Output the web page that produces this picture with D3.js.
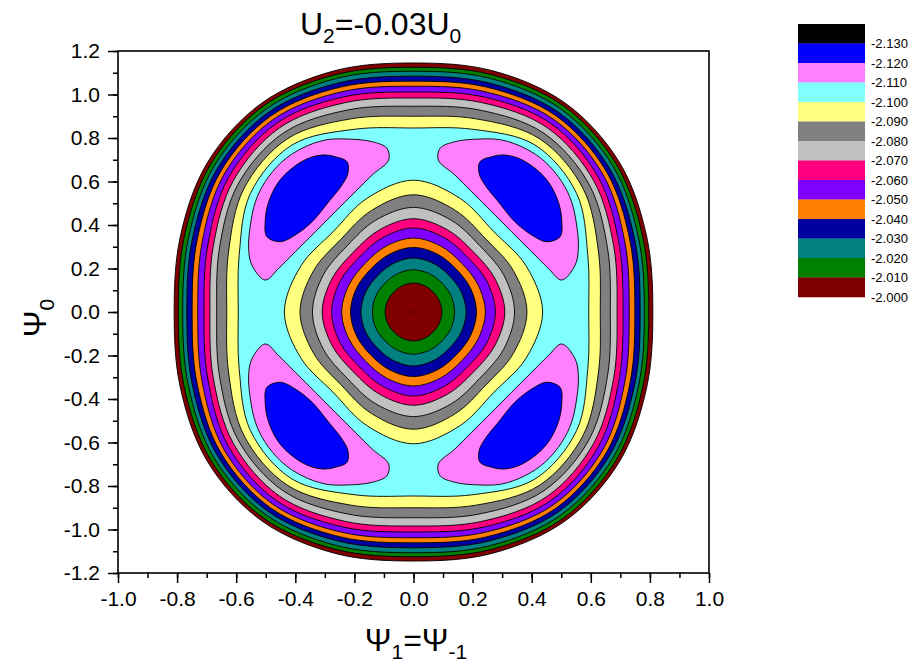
<!DOCTYPE html>
<html>
<head>
<meta charset="utf-8">
<script src="https://cdn.jsdelivr.net/npm/d3@7"></script>
<style>
  body { margin: 0; background: #fff; }
  svg text { font-family: Arial, "Liberation Sans", sans-serif; fill: #000; }
</style>
</head>
<body>
<svg id="chart" width="913" height="669"></svg>
<script>
const width = 913;
const height = 669;
const plot = { left: 118, right: 709, top: 51, bottom: 573 };

// legend levels and their colours (box i = band just below levels[i])
const levels = [-2.130, -2.120, -2.110, -2.100, -2.090, -2.080, -2.070, -2.060, -2.050, -2.040, -2.030, -2.020, -2.010, -2.000];
const levelColors = ["#000000", "#0000ff", "#ff80ff", "#80ffff", "#ffff80", "#808080", "#c0c0c0",
  "#ff0080", "#8000ff", "#ff8000", "#0000a0", "#008080", "#008000", "#800000"];

const xTicks = [-1.0, -0.8, -0.6, -0.4, -0.2, 0.0, 0.2, 0.4, 0.6, 0.8, 1.0];
const yTicks = [-1.2, -1.0, -0.8, -0.6, -0.4, -0.2, 0.0, 0.2, 0.4, 0.6, 0.8, 1.0, 1.2];

// contour lines, first quadrant only [psi1, psi0], from the psi1 axis round to the psi0 axis
// outer ring: value falls going inwards
const outerLevels = [-2.00, -2.01, -2.02, -2.03, -2.04, -2.05, -2.06, -2.07, -2.08, -2.09, -2.10];
const outerContours = [
  [[0.810, 0], [0.789, 0.348], [0.697, 0.688], [0.514, 0.960], [0.265, 1.110], [0, 1.145]],
  [[0.796, 0], [0.776, 0.343], [0.687, 0.678], [0.507, 0.948], [0.261, 1.092], [0, 1.125]],
  [[0.781, 0], [0.762, 0.337], [0.676, 0.668], [0.499, 0.933], [0.257, 1.075], [0, 1.107]],
  [[0.767, 0], [0.749, 0.331], [0.665, 0.657], [0.491, 0.918], [0.252, 1.054], [0, 1.084]],
  [[0.749, 0], [0.733, 0.324], [0.653, 0.645], [0.482, 0.902], [0.247, 1.034], [0, 1.061]],
  [[0.730, 0], [0.716, 0.316], [0.641, 0.633], [0.474, 0.886], [0.242, 1.013], [0, 1.038]],
  [[0.709, 0], [0.696, 0.308], [0.626, 0.618], [0.464, 0.867], [0.237, 0.989], [0, 1.011]],
  [[0.689, 0], [0.678, 0.299], [0.610, 0.603], [0.453, 0.847], [0.230, 0.963], [0, 0.984]],
  [[0.666, 0], [0.657, 0.290], [0.594, 0.587], [0.440, 0.823], [0.222, 0.929], [0, 0.946]],
  [[0.632, 0], [0.626, 0.276], [0.574, 0.567], [0.426, 0.797], [0.212, 0.888], [0, 0.900]],
  [[0.593, 0], [0.590, 0.260], [0.552, 0.545], [0.411, 0.768], [0.201, 0.840], [0, 0.846]]
];

// inner hill round the centre: value rises going inwards
const innerLevels = [-2.10, -2.09, -2.08, -2.07, -2.06, -2.05, -2.04, -2.03, -2.02, -2.01];
const innerContours = [
  [[0.437, 0], [0.380, 0.214], [0.272, 0.369], [0.159, 0.521], [0, 0.606]],
  [[0.384, 0], [0.338, 0.190], [0.246, 0.334], [0.142, 0.467], [0, 0.539]],
  [[0.342, 0], [0.305, 0.171], [0.224, 0.305], [0.129, 0.421], [0, 0.481]],
  [[0.309, 0], [0.275, 0.155], [0.203, 0.276], [0.115, 0.378], [0, 0.429]],
  [[0.277, 0], [0.249, 0.140], [0.184, 0.251], [0.104, 0.342], [0, 0.386]],
  [[0.243, 0], [0.219, 0.123], [0.164, 0.223], [0.092, 0.303], [0, 0.340]],
  [[0.213, 0], [0.193, 0.109], [0.145, 0.197], [0.081, 0.266], [0, 0.297]],
  [[0.178, 0], [0.162, 0.091], [0.122, 0.166], [0.068, 0.223], [0, 0.248]],
  [[0.139, 0], [0.128, 0.072], [0.097, 0.132], [0.054, 0.176], [0, 0.194]],
  [[0.096, 0], [0.088, 0.050], [0.067, 0.091], [0.037, 0.121], [0, 0.133]]
];

// the four minima (upper right one given, the others are its mirror images)
const islandLevels = [-2.11, -2.12];
const islandContours = [
  [[0.090, 0.753], [0.140, 0.783], [0.219, 0.795], [0.298, 0.791], [0.377, 0.753], [0.445, 0.691],
   [0.502, 0.599], [0.535, 0.507], [0.552, 0.400], [0.558, 0.293], [0.547, 0.216], [0.502, 0.147],
   [0.456, 0.201], [0.400, 0.277], [0.332, 0.369], [0.265, 0.461], [0.197, 0.553], [0.140, 0.630], [0.084, 0.699]],
  [[0.225, 0.691], [0.265, 0.714], [0.304, 0.722], [0.355, 0.707], [0.411, 0.661], [0.456, 0.599],
   [0.490, 0.507], [0.502, 0.415], [0.496, 0.346], [0.451, 0.323], [0.400, 0.354], [0.343, 0.415],
   [0.287, 0.507], [0.242, 0.584], [0.222, 0.638]]
];

const centerPoint = [0, 0];

const svg = d3.select("#chart").attr("viewBox", [0, 0, width, height]);

const x = d3.scaleLinear().domain([-1, 1]).range([plot.left, plot.right]);
const y = d3.scaleLinear().domain([-1.2, 1.2]).range([plot.bottom, plot.top]);

const levelIndex = v => levels.findIndex(l => Math.abs(l - v) < 1e-9);

// quadrant arc -> closed loop by mirroring in both axes
function fullLoop(q) {
  const q2 = q.slice(0, -1).reverse().map(([a, b]) => [-a, b]);
  const q3 = q.slice(1).map(([a, b]) => [-a, -b]);
  const q4 = q.slice(1, -1).reverse().map(([a, b]) => [a, -b]);
  return [...q, ...q2, ...q3, ...q4];
}

function mirrors(poly) {
  return [[1, 1], [-1, 1], [-1, -1], [1, -1]].map(([sx, sy]) => poly.map(([a, b]) => [sx * a, sy * b]));
}

const line = d3.line()
  .x(d => x(d[0]))
  .y(d => y(d[1]))
  .curve(d3.curveCatmullRomClosed.alpha(0.5));

const area = svg.append("g");

function drawShape(pts, fill) {
  area.append("path")
    .attr("d", line(pts))
    .attr("fill", fill)
    .attr("stroke", "#000")
    .attr("stroke-width", 0.9)
    .attr("stroke-linejoin", "round");
}

// painter's order, outside in
outerContours.forEach((q, i) => drawShape(fullLoop(q), levelColors[levelIndex(outerLevels[i])]));

islandContours.forEach((poly, i) => {
  const fill = levelColors[levelIndex(islandLevels[i])];
  mirrors(poly).forEach(p => drawShape(p, fill));
});

innerContours.forEach((q, i) => {
  drawShape(fullLoop(q), levelColors[levelIndex(innerLevels[i]) + 1]);
});

svg.append("circle")
  .attr("cx", x(centerPoint[0]))
  .attr("cy", y(centerPoint[1]))
  .attr("r", 0.9)
  .attr("fill", "#000");

// axes
const fmt = d => d.toFixed(1);
const xMinor = d3.range(-10, 11).map(d => d / 10);
const yMinor = d3.range(-12, 13).map(d => d / 10);

svg.append("g")
  .attr("transform", `translate(0,${plot.bottom})`)
  .call(d3.axisBottom(x).tickValues(xMinor).tickSize(5).tickFormat(""))
  .call(g => g.select(".domain").remove());

svg.append("g")
  .attr("transform", `translate(0,${plot.bottom})`)
  .call(d3.axisBottom(x).tickValues(xTicks).tickSize(10).tickPadding(8).tickFormat(fmt))
  .call(g => g.select(".domain").remove());

svg.append("g")
  .attr("transform", `translate(${plot.left},0)`)
  .call(d3.axisLeft(y).tickValues(yMinor).tickSize(5).tickFormat(""))
  .call(g => g.select(".domain").remove());

svg.append("g")
  .attr("transform", `translate(${plot.left},0)`)
  .call(d3.axisLeft(y).tickValues(yTicks).tickSize(10).tickPadding(8).tickFormat(fmt))
  .call(g => g.select(".domain").remove());

svg.selectAll(".tick line").attr("stroke", "#000").attr("stroke-width", 1.5);
svg.selectAll(".tick text").attr("font-size", 21).attr("font-family", "Arial, 'Liberation Sans', sans-serif");

svg.append("rect")
  .attr("x", plot.left)
  .attr("y", plot.top)
  .attr("width", plot.right - plot.left)
  .attr("height", plot.bottom - plot.top)
  .attr("fill", "none")
  .attr("stroke", "#000")
  .attr("stroke-width", 1.6);

// title
const title = svg.append("text")
  .attr("x", 300)
  .attr("y", 35)
  .attr("font-size", 32);
title.append("tspan").text("U");
title.append("tspan").attr("font-size", 21).attr("dy", 8).text("2");
title.append("tspan").attr("dy", -8).text("=-0.03U");
title.append("tspan").attr("font-size", 21).attr("dy", 8).text("0");

// axis titles
const xTitle = svg.append("text")
  .attr("x", 416)
  .attr("y", 651)
  .attr("text-anchor", "middle")
  .attr("font-size", 32);
xTitle.append("tspan").text("Ψ");
xTitle.append("tspan").attr("font-size", 21).attr("dy", 8).text("1");
xTitle.append("tspan").attr("dy", -8).text("=Ψ");
xTitle.append("tspan").attr("font-size", 21).attr("dy", 8).text("-1");

const yTitle = svg.append("text")
  .attr("transform", "translate(46,318) rotate(-90)")
  .attr("text-anchor", "middle")
  .attr("font-size", 32);
yTitle.append("tspan").text("Ψ");
yTitle.append("tspan").attr("font-size", 21).attr("dy", 8).text("0");

// legend
const legend = svg.append("g").attr("transform", "translate(798,24)");
const boxH = 19.5;
legend.selectAll("rect")
  .data(levels)
  .join("rect")
  .attr("x", 0)
  .attr("y", (d, i) => i * boxH)
  .attr("width", 67)
  .attr("height", boxH + 0.3)
  .attr("fill", (d, i) => levelColors[i]);
legend.selectAll("text")
  .data(levels)
  .join("text")
  .attr("x", 73)
  .attr("y", (d, i) => (i + 1) * boxH)
  .attr("dy", "0.35em")
  .attr("font-size", 13)
  .text(d => d.toFixed(3));
</script>
</body>
</html>
